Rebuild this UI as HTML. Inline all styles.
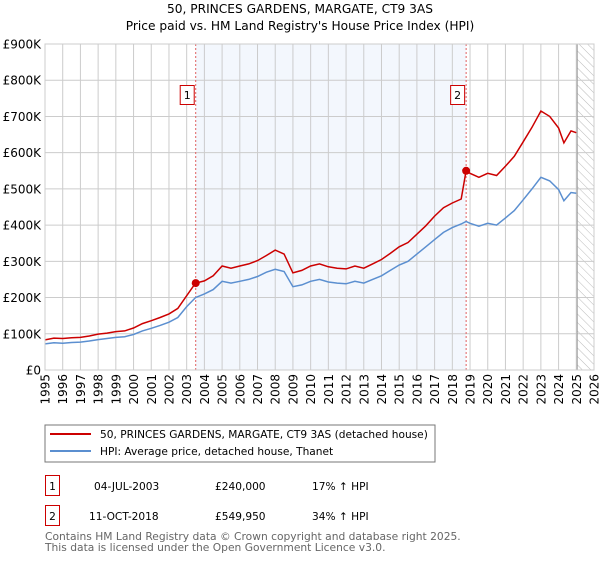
<!DOCTYPE html>
<html><head><meta charset="utf-8"><style>
body{margin:0;background:#fff;font-family:"DejaVu Sans","Liberation Sans",sans-serif}
svg text{font-family:"DejaVu Sans","Liberation Sans",sans-serif}
</style></head><body>
<svg width="600" height="560" viewBox="0 0 600 560" id="c">
<defs><pattern id="hatch" width="6" height="6" patternUnits="userSpaceOnUse" patternTransform="rotate(-45)"><line x1="0" y1="0" x2="0" y2="6" stroke="#bbb" stroke-width="1"/></pattern></defs>
<text x="300" y="13" text-anchor="middle" font-size="12.2">50, PRINCES GARDENS, MARGATE, CT9 3AS</text>
<text x="300" y="30" text-anchor="middle" font-size="12.2">Price paid vs. HM Land Registry's House Price Index (HPI)</text>
<g id="plot"></g>
<rect x="45" y="425" width="390" height="37" fill="#fff" stroke="#777"/>
<line x1="50" y1="434" x2="91" y2="434" stroke="#cc0000" stroke-width="2"/>
<text x="100" y="438" font-size="10.6">50, PRINCES GARDENS, MARGATE, CT9 3AS (detached house)</text>
<line x1="50" y1="451" x2="91" y2="451" stroke="#5b8fd0" stroke-width="2"/>
<text x="100" y="455" font-size="10.6">HPI: Average price, detached house, Thanet</text>
<g font-size="10.6">
<rect x="45.5" y="475.5" width="14" height="20" fill="#fff" stroke="#cc0000"/>
<text x="52.5" y="490" text-anchor="middle">1</text>
<text x="94" y="490">04-JUL-2003</text>
<text x="215" y="490">£240,000</text>
<text x="312" y="490">17% ↑ HPI</text>
<rect x="45.5" y="505.5" width="14" height="20" fill="#fff" stroke="#cc0000"/>
<text x="52.5" y="520" text-anchor="middle">2</text>
<text x="89" y="520">11-OCT-2018</text>
<text x="215" y="520">£549,950</text>
<text x="312" y="520">34% ↑ HPI</text>
</g>
<text x="45" y="540" font-size="10.7" fill="#666">Contains HM Land Registry data © Crown copyright and database right 2025.</text>
<text x="45" y="551" font-size="10.7" fill="#666">This data is licensed under the Open Government Licence v3.0.</text>
</svg>
<script>
const years=[1995,1995.5,1996,1996.5,1997,1997.5,1998,1998.5,1999,1999.5,2000,2000.5,2001,2001.5,2002,2002.5,2003,2003.5,2004,2004.5,2005,2005.5,2006,2006.5,2007,2007.5,2008,2008.5,2009,2009.5,2010,2010.5,2011,2011.5,2012,2012.5,2013,2013.5,2014,2014.5,2015,2015.5,2016,2016.5,2017,2017.5,2018,2018.5,2018.78,2019,2019.5,2020,2020.5,2021,2021.5,2022,2022.5,2023,2023.5,2024,2024.3,2024.7,2025];
const hpiValues=[72,75,74,76,77,80,84,87,90,92,98,108,115,123,132,145,175,200,210,222,245,240,245,250,258,270,278,272,230,235,245,250,243,240,238,245,240,250,260,275,290,300,320,340,360,380,393,403,410,405,397,405,400,420,440,470,500,532,522,498,467,490,488];
const priceValues=[83,88,87,89,90,94,99,102,106,108,116,128,136,145,155,170,205,240,246,260,287,281,287,293,302,316,331,320,268,275,287,293,285,281,279,287,281,293,305,322,340,352,375,398,425,448,461,472,549.95,543,532,543,537,563,590,630,670,715,700,668,627,660,655];
const yTicks=[0,100,200,300,400,500,600,700,800,900];
const yTickLabels=["£0","£100K","£200K","£300K","£400K","£500K","£600K","£700K","£800K","£900K"];
const xTicks=[1995,1996,1997,1998,1999,2000,2001,2002,2003,2004,2005,2006,2007,2008,2009,2010,2011,2012,2013,2014,2015,2016,2017,2018,2019,2020,2021,2022,2023,2024,2025,2026];
const sales=[[2003.51,240],[2018.78,549.95]];
const saleLabels=["1","2"];
const X0=45,X1=594,Y0=370,Y1=44;
const x=v=>X0+(v-1995)/(2026-1995)*(X1-X0);
const y=v=>Y0-v/900*(Y0-Y1);
const NS="http://www.w3.org/2000/svg";
const g=document.getElementById('plot');
function mk(t,a,p){const e=document.createElementNS(NS,t);for(const k in a)e.setAttribute(k,a[k]);(p||g).appendChild(e);return e;}
let e;
e=mk('rect',{x:x(sales[0][0]),y:Y1,width:x(sales[1][0])-x(sales[0][0]),height:Y0-Y1,fill:'#eef3fc',opacity:0.7});


e=mk('rect',{x:x(2025.05),y:Y1,width:X1-x(2025.05),height:Y0-Y1,fill:'url(#hatch)'});


xTicks.forEach(t=>{
 e=mk('line',{x1:x(t),x2:x(t),y1:Y1,y2:Y0,stroke:'#ccc'});
 
 
 e=mk('text',{x:0,y:0,transform:`translate(${x(t)+4.5},${Y0+4}) rotate(-90)`,'text-anchor':'end','font-size':'12'});
 e.textContent=t;
 
 
});
yTicks.forEach((t,i)=>{
 e=mk('line',{x1:X0,x2:X1,y1:y(t),y2:y(t),stroke:'#ccc'});
 
 
 e=mk('text',{x:X0-4,y:y(t)+4.5,'text-anchor':'end','font-size':'12'});
 e.textContent=yTickLabels[i];
 
 
});
e=mk('line',{x1:x(2025.05),x2:x(2025.05),y1:Y1,y2:Y0,stroke:'#999'});


sales.forEach((s,i)=>{
 e=mk('line',{x1:x(s[0]),x2:x(s[0]),y1:Y1,y2:Y0,stroke:'#e06060','stroke-dasharray':'2,2'});
 
 
});
const pts=a=>years.map((t,i)=>x(t).toFixed(1)+','+y(a[i]).toFixed(1)).join(' ');
e=mk('polyline',{points:pts(hpiValues),fill:'none',stroke:'#5b8fd0','stroke-width':1.5});


e=mk('polyline',{points:pts(priceValues),fill:'none',stroke:'#cc0000','stroke-width':1.5});


sales.forEach((s,i)=>{
 e=mk('circle',{cx:x(s[0]),cy:y(s[1]),r:4,fill:'#cc0000'});
 
 
 e=mk('rect',{x:x(s[0])-15.5,y:85.5,width:14,height:19,fill:'#fff',stroke:'#cc0000'});
 
 
 e=mk('text',{x:x(s[0])-8.5,y:99,'text-anchor':'middle','font-size':'11'});
 e.textContent=saleLabels[i];
 
 
});
e=mk('rect',{x:X0,y:Y1,width:X1-X0,height:Y0-Y1,fill:'none',stroke:'#ccc'});


</script>
</body></html>
